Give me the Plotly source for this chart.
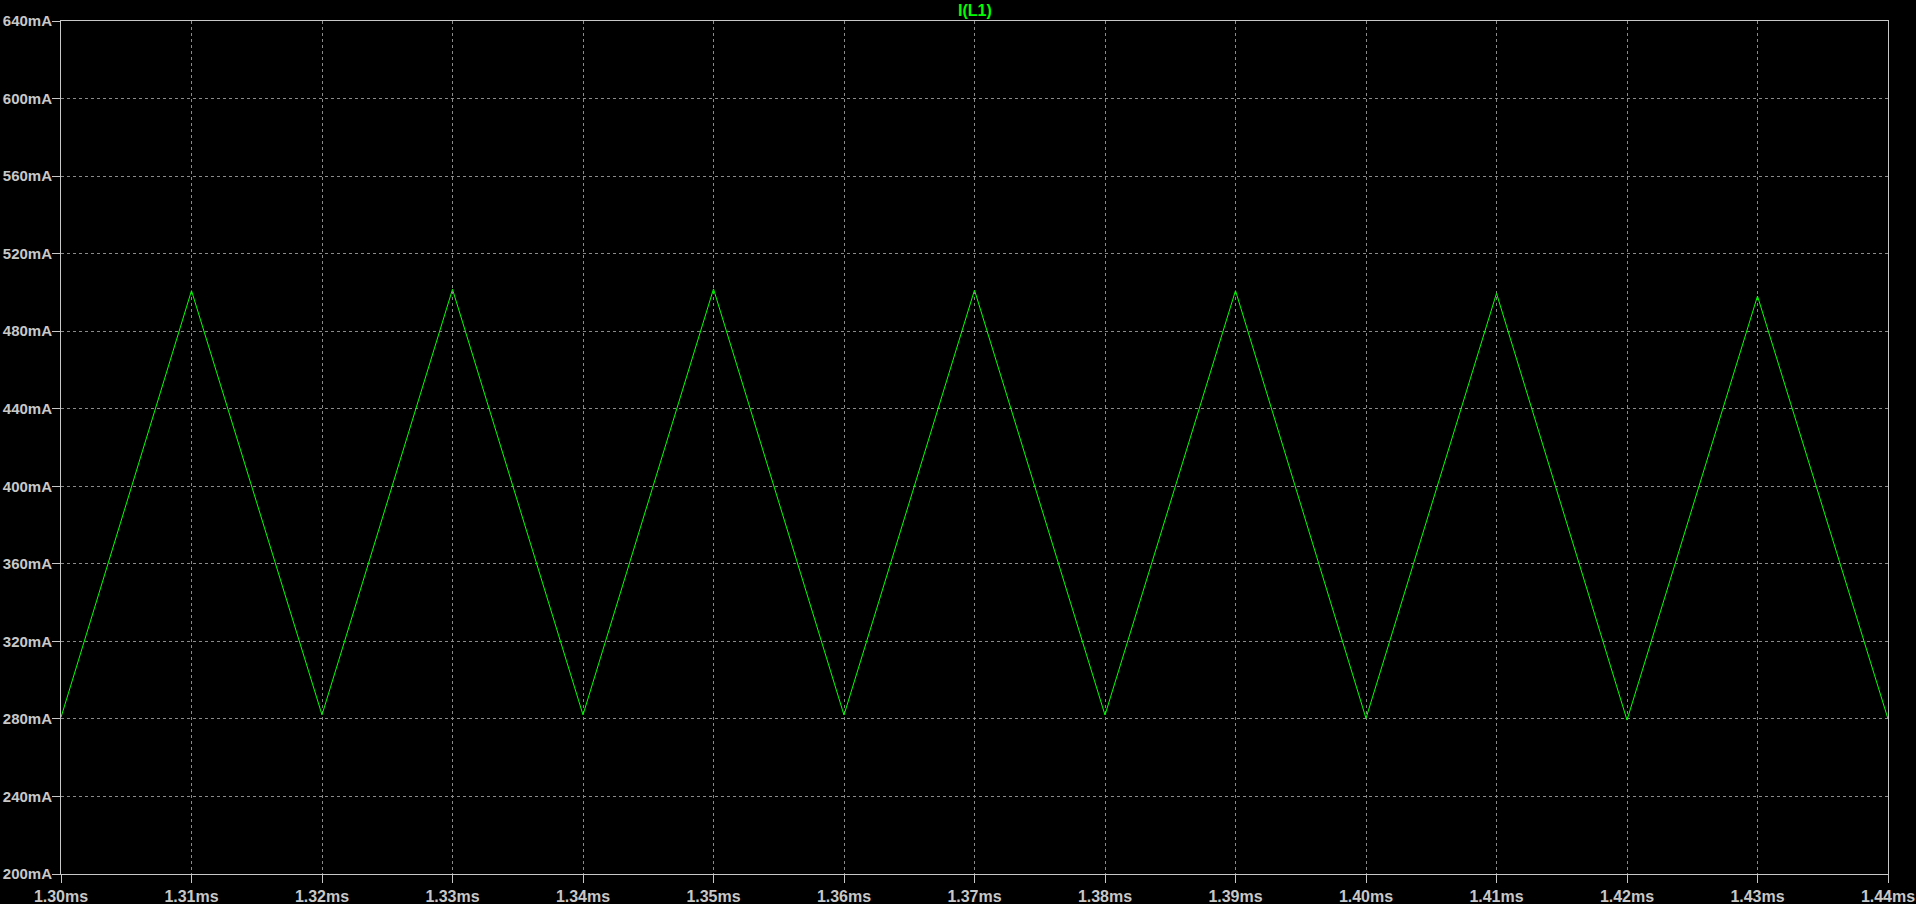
import plotly.graph_objects as go

# Time points (ms) and inductor current I(L1) (mA)
time_ms = [1.30, 1.31, 1.32, 1.33, 1.34, 1.35, 1.36, 1.37, 1.38, 1.39, 1.40, 1.41, 1.42, 1.43, 1.44]
current_ma = [280.8, 500.9, 282.1, 501.6, 282.1, 501.8, 282.0, 501.2, 282.0, 500.9, 280.3, 499.5, 279.4, 498.1, 280.0]

x_ticks = [1.30, 1.31, 1.32, 1.33, 1.34, 1.35, 1.36, 1.37, 1.38, 1.39, 1.40, 1.41, 1.42, 1.43, 1.44]
x_tick_labels = ["1.30ms", "1.31ms", "1.32ms", "1.33ms", "1.34ms", "1.35ms", "1.36ms", "1.37ms",
                 "1.38ms", "1.39ms", "1.40ms", "1.41ms", "1.42ms", "1.43ms", "1.44ms"]
y_ticks = [200, 240, 280, 320, 360, 400, 440, 480, 520, 560, 600, 640]
y_tick_labels = ["200mA", "240mA", "280mA", "320mA", "360mA", "400mA", "440mA", "480mA",
                 "520mA", "560mA", "600mA", "640mA"]

FONT = "Liberation Sans, Arial, sans-serif"
TXT = "#c8c8c8"
GRID = "#8a8a8a"
FRAME = "#c8c8c8"

fig = go.Figure()
fig.add_trace(go.Scatter(
    x=time_ms, y=current_ma, mode="lines",
    line=dict(color="#00ff00", width=1),
    name="I(L1)", showlegend=False, hoverinfo="x+y",
))

axis_common = dict(
    showline=True, linecolor=FRAME, linewidth=1, mirror=True,
    showgrid=True, gridcolor=GRID, gridwidth=1, griddash="3px,3px",
    zeroline=False, ticks="outside", ticklen=8, tickcolor=FRAME, tickwidth=1,
)

fig.update_xaxes(range=[1.30, 1.44], tickmode="array", tickvals=x_ticks, ticktext=x_tick_labels,
                 tickfont=dict(family=FONT, size=16, color=TXT, weight="bold"),
                 **axis_common)
fig.update_yaxes(range=[200, 640], tickmode="array", tickvals=y_ticks, ticktext=y_tick_labels,
                 tickfont=dict(family=FONT, size=15, color=TXT, weight="bold"),
                 ticklabelstandoff=-3, **axis_common)

fig.add_annotation(
    text="I(L1)", xref="paper", yref="paper", x=0.5, y=1, yanchor="middle", yshift=11,
    showarrow=False, font=dict(family=FONT, size=16, color="#00ff00", weight="bold"),
)

fig.update_layout(
    width=1916, height=904,
    margin=dict(l=61, r=28, t=21, b=30, autoexpand=False),
    paper_bgcolor="#000000", plot_bgcolor="#000000",
)

fig.write_html("out.html", config={"displayModeBar": False})
